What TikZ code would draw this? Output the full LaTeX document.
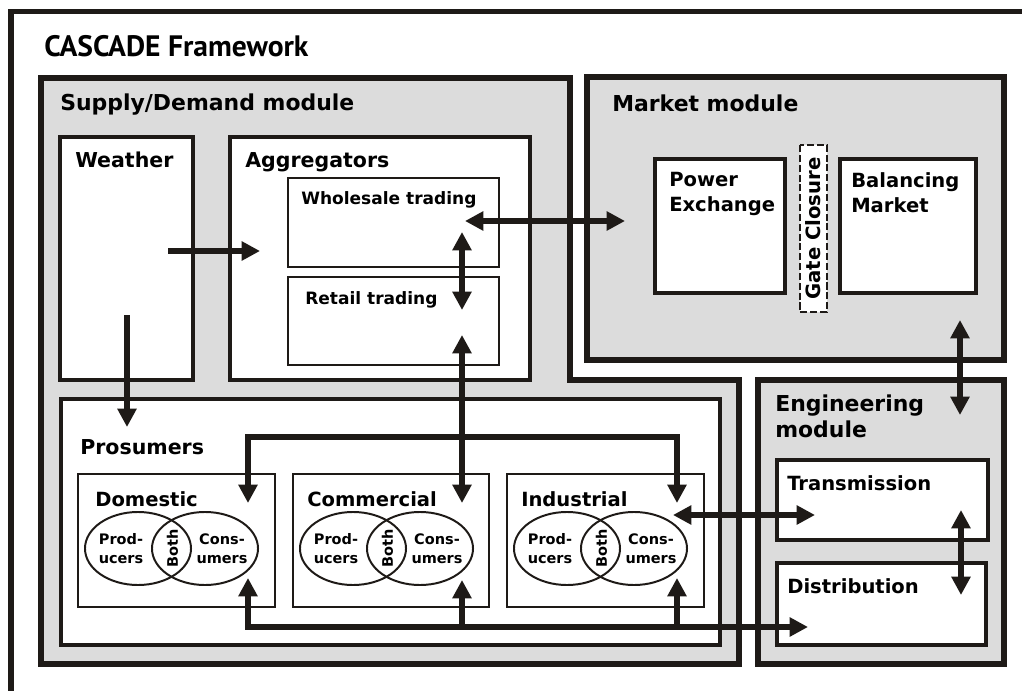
\documentclass[tikz,border=0pt]{standalone}
\usepackage{fontspec}
\setmainfont{DejaVu Sans}
\newfontfamily\titlefont{PT Sans}
\usetikzlibrary{arrows.meta,fit,shapes.geometric}
\definecolor{ink}{RGB}{30,26,23}
\definecolor{modgray}{RGB}{220,220,220}

\begin{document}
\begin{tikzpicture}[
    x=0.025cm, y=-0.025cm,
    >={Triangle[length=13pt, width=13pt]},
    frame/.style={draw=ink, line width=3.6pt},
    module/.style={rectangle, draw=ink, line width=3.6pt, fill=modgray, inner sep=0pt},
    block/.style={rectangle, draw=ink, line width=2.4pt, fill=white, inner sep=0pt},
    subblock/.style={rectangle, draw=ink, line width=1.6pt, fill=white, inner sep=0pt},
    gate/.style={rectangle, draw=ink, line width=1.4pt, dash pattern=on 5pt off 2pt,
        fill=white, inner sep=0pt, minimum width=4.175cm, minimum height=0.675cm,
        rotate=90, font=\bfseries\fontsize{14}{16}\selectfont},
    venn/.style={ellipse, draw=ink, line width=1.4pt, inner sep=0pt,
        minimum width=2.65cm, minimum height=1.825cm},
    titletext/.style={anchor=base west, inner sep=0pt, font=\titlefont\bfseries\fontsize{21}{25}\selectfont},
    modtext/.style={anchor=base west, inner sep=0pt, font=\bfseries\fontsize{15.6}{18.5}\selectfont},
    blocktext/.style={anchor=base west, inner sep=0pt, font=\bfseries\fontsize{14.6}{17.8}\selectfont},
    innertext/.style={anchor=base west, inner sep=0pt, font=\bfseries\fontsize{13.9}{17.8}\selectfont},
    subtext/.style={anchor=base west, inner sep=0pt, font=\bfseries\fontsize{12.1}{15}\selectfont},
    venntext/.style={inner sep=0pt, align=center, font=\bfseries\fontsize{10.3}{13.5}\selectfont},
    arrowstyle/.style={draw=ink, line width=4.3pt, ->},
    twoway/.style={draw=ink, line width=4.3pt, <->}
]
\useasboundingbox (0,0) rectangle (1022,691);
\clip (0,0) rectangle (1022,691);

\draw[frame] (11,700) -- (11,11.5) -- (1030,11.5);
\node (Title) [titletext] at (44,56) {CASCADE Framework};

\draw[module, line join=miter] (41,78) -- (570,78) -- (570,380) -- (739,380) -- (739,664) -- (41,664) -- cycle;
\node (Market) [module, fit={(587,77) (1004,360)}] {};
\node (Engineering) [module, fit={(758,380) (1004,664)}] {};

\node (SupplyLabel) [modtext] at (60,110) {Supply/Demand module};
\node (MarketLabel) [modtext] at (612,111) {Market module};
\node (EngineeringLabel) [modtext, anchor=north west, align=left] at (775,395) {Engineering\\module};

\node (Weather) [block, fit={(60,137) (193,380)}] {};
\node (Aggregators) [block, fit={(230,137) (530,380)}] {};
\node (Wholesale) [subblock, fit={(288,178) (499,267)}] {};
\node (Retail) [subblock, fit={(288,277) (499,365)}] {};
\node (Prosumers) [block, fit={(61,399) (720,645)}] {};
\node (Domestic) [subblock, fit={(78,474) (275,607)}] {};
\node (Commercial) [subblock, fit={(293,474) (489,607)}] {};
\node (Industrial) [subblock, fit={(507,474) (704,607)}] {};
\node (PowerExchange) [block, fit={(655,159) (785,293)}] {};
\node (Balancing) [block, fit={(840,159) (976,293)}] {};
\node (GateClosure) [gate] at (813.5,228.5) {Gate Closure};
\node (Transmission) [block, fit={(777,460) (988,540)}] {};
\node (Distribution) [block, fit={(777,563) (986,645)}] {};

\node (WeatherLabel) [blocktext] at (75,167) {Weather};
\node (AggregatorsLabel) [blocktext] at (245,167) {Aggregators};
\node (WholesaleLabel) [subtext] at (301,204) {Wholesale trading};
\node (RetailLabel) [subtext] at (305,304) {Retail trading};
\node (ProsumersLabel) [blocktext] at (80,454) {Prosumers};
\node (DomesticLabel) [innertext] at (95,506) {Domestic};
\node (CommercialLabel) [innertext] at (307,506) {Commercial};
\node (IndustrialLabel) [innertext] at (521,506) {Industrial};
\node (PowerExchangeLabel) [innertext, anchor=north west, align=left] at (669,172) {Power\\Exchange};
\node (BalancingLabel) [innertext, anchor=north west, align=left] at (851,172) {Balancing\\Market};
\node (TransmissionLabel) [innertext] at (787,490) {Transmission};
\node (DistributionLabel) [innertext] at (787,593) {Distribution};

\node (DomProd) [venn] at (138,548.5) {};
\node (DomCons) [venn] at (205,548.5) {};
\node (DomProdText) [venntext] at (121,549) {Prod-\\ucers};
\node (DomConsText) [venntext] at (222,549) {Cons-\\umers};
\node (DomBoth) [venntext, rotate=90] at (172.5,548) {Both};

\node (ComProd) [venn] at (353,548.5) {};
\node (ComCons) [venn] at (420,548.5) {};
\node (ComProdText) [venntext] at (336,549) {Prod-\\ucers};
\node (ComConsText) [venntext] at (437,549) {Cons-\\umers};
\node (ComBoth) [venntext, rotate=90] at (387.5,548) {Both};

\node (IndProd) [venn] at (567,548.5) {};
\node (IndCons) [venn] at (634,548.5) {};
\node (IndProdText) [venntext] at (550,549) {Prod-\\ucers};
\node (IndConsText) [venntext] at (651,549) {Cons-\\umers};
\node (IndBoth) [venntext, rotate=90] at (601.5,548) {Both};

\coordinate (WeatherOut) at (168,251);
\coordinate (AggregatorsIn) at (260,251);
\coordinate (WeatherDown) at (127,315);
\coordinate (ProsumersIn) at (127,427);
\coordinate (WholesaleSide) at (465,221);
\coordinate (PowerExchangeIn) at (625,221);
\coordinate (WholesaleDown) at (462,232);
\coordinate (RetailUp) at (462,310);
\coordinate (RetailIn) at (462,335);
\coordinate (CommercialTop) at (462,503);
\coordinate (DomesticTop) at (248,503);
\coordinate (IndustrialTop) at (677,503);
\coordinate (DomesticBottom) at (248,578);
\coordinate (CommercialBottom) at (462,580);
\coordinate (IndustrialBottom) at (677,578);
\coordinate (DistributionIn) at (808,627);
\coordinate (IndustrialSide) at (673,515);
\coordinate (TransmissionIn) at (815,515);
\coordinate (MarketIn) at (960,320);
\coordinate (EngineeringIn) at (960,415);
\coordinate (TransmissionDown) at (961,510);
\coordinate (DistributionUp) at (961,595);

\draw[arrowstyle] (WeatherOut) -- (AggregatorsIn);
\draw[arrowstyle] (WeatherDown) -- (ProsumersIn);
\draw[twoway] (WholesaleSide) -- (PowerExchangeIn);
\draw[twoway] (WholesaleDown) -- (RetailUp);
\draw[twoway] (RetailIn) -- (CommercialTop);
\draw[twoway] (DomesticTop) -- ++(0,-66) -| (IndustrialTop);
\draw[twoway] (DomesticBottom) |- (DistributionIn);
\draw[arrowstyle] (CommercialBottom |- DistributionIn) -- (CommercialBottom);
\draw[arrowstyle] (IndustrialBottom |- DistributionIn) -- (IndustrialBottom);
\draw[twoway] (IndustrialSide) -- (TransmissionIn);
\draw[twoway] (MarketIn) -- (EngineeringIn);
\draw[twoway] (TransmissionDown) -- (DistributionUp);

\end{tikzpicture}
\end{document}
